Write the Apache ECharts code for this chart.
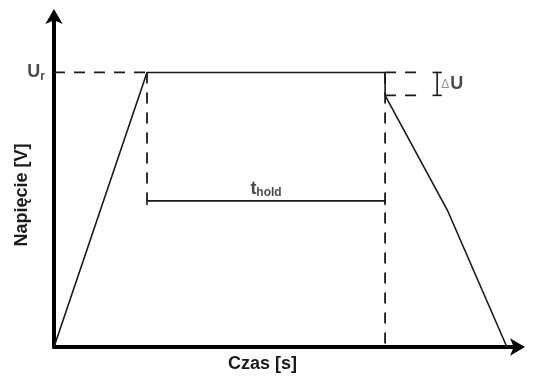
<!DOCTYPE html>
<html>
<head>
<meta charset="utf-8">
<script src="https://cdn.jsdelivr.net/npm/echarts@6/dist/echarts.min.js"></script>
<style>
html,body{margin:0;padding:0;background:#fff;}
#chart{width:533px;height:378px;}
</style>
</head>
<body>
<div id="chart"></div>
<script>
// Main voltage curve (time, voltage) in arbitrary units
var curveTime = [0, 20, 71.2, 71.2, 84.7, 97.4];
var curveVoltage = [0, 82.7, 82.7, 75.8, 40.9, 0];
// Reference levels
var urLevel = 82.7;       // U_r
var dropLevel = 75.8;     // U_r - ΔU
var holdStart = 20;       // start of t_hold
var holdEnd = 71.2;       // end of t_hold
var holdLevel = 44;       // height of the t_hold dimension line
var deltaDashEnd = 78.7;  // end of ΔU dashed guides
var deltaBracketX = 82.4; // ΔU bracket position
// Texts
var xAxisTitle = 'Czas [s]';
var yAxisTitle = 'Napięcie [V]';

var ink = '#1a1a1a';
var FONT = 'Liberation Sans';

function pts(xs, ys) { return xs.map(function (x, i) { return [x, ys[i]]; }); }
function seg(data, dashed, width) {
  return {
    type: 'line', data: data, showSymbol: false, symbol: 'none', silent: true, clip: false,
    animation: false,
    lineStyle: { color: ink, width: width || 1.6, type: dashed ? [11, 9] : 'solid' }
  };
}

var capHalf = 1.0;
var tickDown = 1.2;

var series = [
  seg(pts(curveTime, curveVoltage), false, 1.6),
  seg([[0, urLevel], [holdStart, urLevel]], true, 1.8),
  seg([[holdStart, urLevel], [holdStart, holdLevel]], true, 1.8),
  seg([[holdEnd, urLevel], [holdEnd, 0]], true, 1.8),
  seg([[holdEnd, urLevel], [deltaDashEnd, urLevel]], true, 1.8),
  seg([[holdEnd, dropLevel], [deltaDashEnd, dropLevel]], true, 1.8),
  seg([[deltaBracketX, urLevel], [deltaBracketX, dropLevel]], false, 1.6),
  seg([[deltaBracketX - capHalf, urLevel], [deltaBracketX + capHalf, urLevel]], false, 1.6),
  seg([[deltaBracketX - capHalf, dropLevel], [deltaBracketX + capHalf, dropLevel]], false, 1.6),
  seg([[holdStart, holdLevel - tickDown], [holdStart, holdLevel], [holdEnd, holdLevel], [holdEnd, holdLevel - tickDown]], false, 1.6),
  {
    type: 'scatter', symbolSize: 0, silent: true, clip: false, animation: false,
    data: [
      { value: [0, urLevel], label: { show: true, position: 'left', distance: 9, formatter: '{u|U}{s|r}' } },
      { value: [(holdStart + holdEnd) / 2, holdLevel], label: { show: true, position: 'top', distance: 2, formatter: '{u|t}{s|hold}' } },
      { value: [deltaBracketX, (urLevel + dropLevel) / 2], label: { show: true, position: 'right', distance: 4, formatter: '{d|Δ}{u|U}' } }
    ],
    label: {
      color: ink, fontFamily: FONT,
      rich: {
        u: { fontSize: 18, fontWeight: 'bold', fontFamily: FONT, color: ink, lineHeight: 20 },
        s: { fontSize: 12, fontWeight: 'bold', fontFamily: FONT, color: ink, lineHeight: 20, verticalAlign: 'bottom', padding: [8, 0, 0, 0] },
        d: { fontSize: 12, fontFamily: FONT, color: '#777', lineHeight: 20, padding: [1, 1, 0, 0] }
      }
    }
  }
];

var axisLine = {
  show: true, onZero: false,
  symbol: ['none', 'arrow'], symbolSize: [13, 15], symbolOffset: [0, 6],
  lineStyle: { color: '#000', width: 4 }
};

var chart = echarts.init(document.getElementById('chart'), null, { renderer: 'canvas' });
chart.setOption({
  backgroundColor: '#fff',
  animation: false,
  grid: { left: 54, right: 14, top: 15, bottom: 28, containLabel: false },
  xAxis: {
    type: 'value', min: 0, max: 100,
    name: xAxisTitle, nameLocation: 'middle', nameGap: 8,
    nameTextStyle: { fontFamily: FONT, fontWeight: 'bold', fontSize: 18, color: ink, padding: [0, 48, 0, 0] },
    axisLine: axisLine, axisTick: { show: false }, axisLabel: { show: false }, splitLine: { show: false }
  },
  yAxis: {
    type: 'value', min: 0, max: 100,
    name: yAxisTitle, nameLocation: 'middle', nameGap: 23,
    nameTextStyle: { fontFamily: FONT, fontWeight: 'bold', fontSize: 18, color: ink, padding: [0, 28, 0, 0] },
    axisLine: axisLine, axisTick: { show: false }, axisLabel: { show: false }, splitLine: { show: false }
  },
  series: series
});
</script>
</body>
</html>
